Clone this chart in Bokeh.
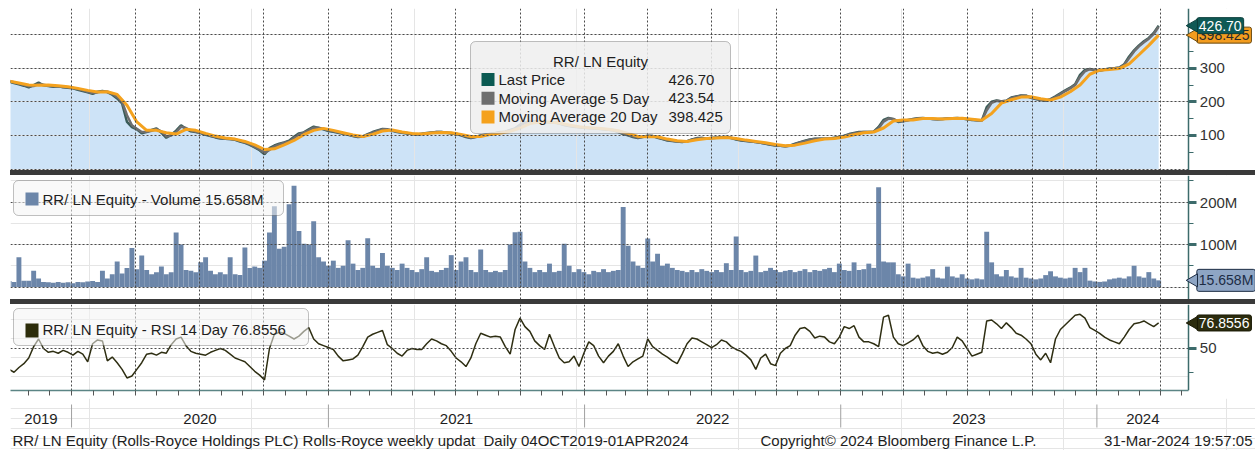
import math
import pandas as pd
from bokeh.plotting import figure
from bokeh.models import (Range1d, LinearAxis, Grid, FixedTicker, ColumnDataSource,
                          Label, BoxAnnotation, Div, CustomJSTickFormatter)
from bokeh.core.properties import value
from bokeh.layouts import column
from bokeh.embed import file_html
from bokeh.resources import INLINE

FONT = "Liberation Sans"

# ---------------- data (weekly readings, first week ending 2019-10-04) ----------------
week_start = "2019-10-04"

last_price = [
    260, 256, 252, 248, 243, 250, 257, 249, 247, 245,
    246, 243, 242, 240, 236, 232, 228, 224, 230, 232,
    229, 221, 210, 195, 140, 125, 118, 106, 111, 116,
    121, 108, 93, 102, 114, 130, 120, 112, 110, 107,
    102, 98, 94, 91, 90, 89, 87, 82, 78, 72,
    64, 56, 44, 62, 70, 75, 79, 84, 96, 106,
    109, 118, 126, 122, 118, 113, 111, 108, 105, 102,
    98, 95, 97, 104, 110, 115, 119, 118, 114, 110,
    108, 106, 104, 103, 105, 107, 109, 110, 110, 108,
    106, 104, 100, 95, 92, 96, 100, 103, 105, 107,
    110, 111, 116, 121, 132, 139, 141, 142, 141, 140,
    139, 139, 135, 131, 128, 126, 124, 123, 122, 121,
    120, 118, 117, 115, 110, 104, 100, 95, 92, 96,
    99, 98, 93, 89, 85, 83, 82, 80, 83, 88,
    92, 92, 91, 92, 93, 94, 95, 92, 88, 85,
    83, 82, 80, 78, 75, 72, 70, 69, 68, 70,
    75, 80, 84, 88, 90, 90, 90, 91, 93, 95,
    99, 104, 107, 110, 110, 110, 111, 125, 146, 152,
    148, 140, 143, 146, 149, 151, 152, 150, 149, 148,
    149, 150, 151, 152, 150, 148, 146, 145, 144, 184,
    200, 204, 201, 203, 213, 216, 219, 218, 212, 208,
    205, 203, 208, 216, 225, 234, 242, 252, 280, 295,
    298, 294, 293, 296, 299, 300, 302, 312, 335, 353,
    368, 380, 390, 405, 426.70,
]

ma5 = [
    262, 258, 254, 250, 246, 247, 253, 251, 248, 246,
    246, 244, 243, 241, 238, 234, 230, 226, 228, 231,
    230, 224, 214, 200, 160, 130, 120, 110, 110, 114,
    119, 112, 97, 100, 110, 126, 122, 115, 111, 108,
    104, 99, 95, 92, 90, 89, 88, 84, 79, 74,
    66, 58, 48, 57, 67, 73, 78, 82, 92, 103,
    108, 115, 123, 123, 119, 115, 112, 109, 106, 103,
    99, 96, 96, 102, 108, 113, 118, 118, 115, 111,
    109, 107, 105, 103, 104, 106, 108, 110, 110, 109,
    107, 105, 101, 97, 93, 95, 99, 102, 104, 106,
    109, 111, 115, 119, 129, 137, 140, 142, 141, 140,
    139, 139, 136, 132, 129, 127, 125, 123, 122, 121,
    120, 119, 117, 116, 111, 106, 101, 97, 93, 95,
    98, 98, 94, 90, 86, 84, 82, 81, 82, 87,
    91, 92, 91, 92, 93, 94, 95, 93, 89, 86,
    84, 82, 80, 78, 76, 73, 71, 69, 68, 69,
    74, 79, 83, 87, 89, 90, 90, 91, 92, 94,
    98, 103, 106, 109, 110, 110, 111, 121, 141, 150,
    149, 142, 142, 145, 148, 150, 151, 151, 149, 148,
    149, 150, 151, 151, 150, 149, 147, 145, 144, 175,
    197, 203, 202, 203, 211, 215, 218, 218, 213, 209,
    206, 204, 207, 214, 223, 232, 240, 250, 274, 291,
    297, 295, 293, 295, 298, 300, 301, 310, 330, 350,
    365, 377, 388, 402, 423.54,
]

# 20-day moving average, read every second week
ma20 = [
    262, 256, 250, 249, 250, 248, 245, 240, 234, 229,
    230, 222, 190, 140, 115, 115, 108, 104, 118, 115,
    106, 98, 92, 89, 82, 72, 58, 60, 72, 85,
    102, 115, 121, 115, 108, 101, 97, 103, 113, 116,
    110, 106, 104, 107, 109, 108, 103, 97, 97, 103,
    107, 112, 122, 135, 140, 140, 137, 131, 126, 123,
    121, 118, 114, 106, 97, 96, 96, 89, 84, 82,
    87, 91, 92, 94, 91, 86, 82, 78, 73, 69,
    71, 77, 84, 89, 91, 95, 102, 108, 110, 122,
    143, 146, 146, 150, 150, 149, 150, 151, 148, 145,
    165, 196, 206, 214, 215, 209, 205, 214, 230, 250,
    282, 294, 296, 299, 313, 340, 368, 398.425,
]

# volume in millions of shares
volume_m = [
    14, 12, 70, 15, 15, 38, 20, 12, 11, 10,
    12, 10, 11, 9, 12, 11, 13, 14, 12, 38,
    20, 30, 60, 32, 45, 92, 42, 74, 40, 30,
    35, 48, 30, 35, 128, 100, 40, 38, 35, 58,
    70, 38, 30, 35, 30, 70, 30, 28, 93, 45,
    48, 45, 62, 128, 190, 90, 95, 195, 238, 132,
    102, 100, 155, 70, 60, 50, 62, 45, 50, 110,
    55, 40, 45, 115, 50, 45, 80, 50, 45, 40,
    55, 45, 40, 35, 42, 70, 38, 35, 40, 45,
    75, 40, 60, 70, 40, 35, 88, 40, 35, 38,
    35, 40, 100, 129, 130, 60, 45, 35, 40, 35,
    55, 35, 38, 102, 50, 35, 42, 35, 30, 38,
    35, 42, 35, 38, 40, 188, 97, 60, 50, 45,
    114, 60, 78, 50, 55, 45, 40, 38, 35, 40,
    35, 42, 38, 35, 40, 35, 56, 40, 119, 40,
    35, 38, 74, 35, 38, 45, 40, 35, 38, 40,
    35, 38, 42, 35, 40, 38, 42, 45, 35, 55,
    40, 38, 58, 40, 42, 55, 45, 235, 60, 58,
    58, 30, 25, 55, 22, 20, 22, 25, 42, 22,
    20, 48, 25, 22, 30, 20, 18, 20, 18, 130,
    58, 30, 25, 40, 25, 22, 45, 22, 20, 18,
    20, 28, 37, 25, 22, 20, 22, 45, 35, 45,
    15, 13, 12, 13, 18, 20, 22, 20, 25, 50,
    25, 22, 35, 20, 15.658,
]

rsi14 = [
    28, 25, 30, 34, 40, 52, 60, 50, 46, 47,
    45, 48, 46, 43, 47, 44, 36, 55, 59, 58,
    37, 41, 35, 28, 19, 21, 28, 35, 44, 45,
    43, 46, 45, 54, 60, 62, 53, 47, 45, 44,
    43, 46, 48, 50, 48, 44, 40, 38, 36, 31,
    26, 22, 17, 50, 65, 67, 66, 63, 60, 63,
    68, 72, 60, 55, 53, 51, 49, 42, 37, 38,
    39, 43, 52, 62, 65, 67, 69, 54, 50, 45,
    42, 48, 50, 49, 49, 55, 60, 58, 55, 53,
    47, 40, 36, 31, 40, 55, 66, 64, 62, 63,
    62, 52, 44, 70, 82, 73, 68, 58, 53, 49,
    65, 52, 40, 35, 36, 42, 31, 45, 57, 53,
    42, 35, 42, 47, 55, 42, 31, 36, 39, 42,
    60, 52, 48, 44, 41, 37, 34, 44, 55, 61,
    60, 57, 54, 51, 54, 59, 57, 52, 49, 47,
    43, 38, 28, 40, 44, 34, 32, 45, 50, 53,
    64, 71, 72, 68, 61, 63, 62, 57, 55, 62,
    73, 71, 74, 62, 57, 57, 55, 52, 83, 85,
    62, 55, 53, 56, 59, 64, 53, 47, 45, 46,
    44, 46, 51, 62, 58, 50, 42, 44, 46, 79,
    80, 76, 71, 77, 72, 66, 64, 60, 55, 44,
    38, 45, 35, 60, 70, 75, 80, 85, 86, 82,
    72, 69, 66, 62, 59, 57, 55, 62, 70, 76,
    77, 79, 76, 73, 76.8556,
]

price_ticks = [100, 200, 300]
price_minor = [50, 150, 250, 350]
volume_ticks = [100, 200]
volume_minor = [50, 150, 250]
rsi_ticks = [50]
rsi_minor = [25, 75]
year_labels = ["2019", "2020", "2021", "2022", "2023", "2024"]
footer_left = ("RR/ LN Equity (Rolls-Royce Holdings PLC) Rolls-Royce weekly updat\u00a0 "
               "Daily 04OCT2019-01APR2024")
footer_mid = "Copyright\u00a9 2024 Bloomberg Finance L.P."
footer_right = "31-Mar-2024 19:57:05"
ticker_name = "RR/ LN Equity"

# ---------------- sources ----------------
dates = pd.date_range(week_start, periods=len(last_price), freq="7D")
src = ColumnDataSource(dict(date=dates, price=last_price, ma5=ma5, vol=volume_m, rsi=rsi14))
src20 = ColumnDataSource(dict(date=dates[::2], ma20=ma20))


def ms(ts):
    return int(pd.Timestamp(ts).value // 10**6)


X0, X_AXIS, X1 = ms("2019-10-06"), ms("2024-05-11"), ms("2024-08-14")
PTR_X = X_AXIS + 7 * 86400000          # value-tag pointers sit just right of the axis
x_range = Range1d(X0, X1)
quarters = [ms(t) for t in pd.date_range("2019-10-01", "2024-04-01", freq="QS")]
months = [ms(t) for t in pd.date_range("2019-11-01", "2024-05-01", freq="MS")]
year_bounds = [ms(t) for t in pd.date_range("2020-01-01", "2024-01-01", freq="YS")]
edges = [X0] + year_bounds + [X_AXIS]
year_mids = [int((a + b) // 2) for a, b in zip(edges[:-1], edges[1:])]

FW = 1245
GRID = dict(grid_line_color="#4a4a4a", grid_line_dash="2 2", grid_line_width=1, level="glyph")
AXIS_COL = "#3c6b6b"


def make_fig(frame_h, y0, y1, border_top=0, border_bottom=0):
    p = figure(frame_width=FW, frame_height=frame_h, x_range=x_range, y_range=Range1d(y0, y1),
               x_axis_location=None, y_axis_location=None,
               toolbar_location=None, output_backend="svg",
               min_border_left=10, min_border_right=0, min_border_top=border_top,
               min_border_bottom=border_bottom)
    p.outline_line_color = None
    p.background_fill_color = "white"
    p.border_fill_color = "white"
    return p


def panel_guides(p, ticks, minor, ygrid, overrides=None):
    p.add_layout(Grid(dimension=0, ticker=FixedTicker(ticks=quarters), **GRID))
    p.add_layout(Grid(dimension=1, ticker=FixedTicker(ticks=ygrid), **GRID))
    # blank out the grid to the right of the value axis
    p.add_layout(BoxAnnotation(left=X_AXIS, fill_color="white", fill_alpha=1,
                               line_color=None, level="glyph"))
    ax = LinearAxis(ticker=FixedTicker(ticks=ticks, minor_ticks=minor),
                    fixed_location=X_AXIS,
                    axis_line_color=AXIS_COL, axis_line_width=1.5,
                    major_tick_in=0, major_tick_out=8, major_tick_line_width=3,
                    major_tick_line_color=AXIS_COL,
                    minor_tick_in=0, minor_tick_out=5, minor_tick_line_color=AXIS_COL,
                    major_label_standoff=3, major_label_text_font=FONT,
                    major_label_text_font_size="15px", major_label_text_color="#333333")
    if overrides:
        ax.major_label_overrides = overrides
    p.add_layout(ax, "right")


def sbox(p, fb, x0, x1, y0, y1, **kw):
    # page coordinates -> frame screen coordinates (frame left at x=10, bottom at fb)
    p.add_layout(BoxAnnotation(left=x0 - 10, right=x1 - 10, top=fb - y0, bottom=fb - y1,
                               left_units="screen", right_units="screen",
                               top_units="screen", bottom_units="screen", **kw))


def stext(p, fb, x, y, text, align="left", size="15px", color="#1e1e1e"):
    p.add_layout(Label(x=x - 10, y=fb - y, x_units="screen", y_units="screen", text=text,
                       text_font=FONT, text_font_size=size, text_color=color,
                       text_align=align, text_baseline="middle"))


def value_tags(p, tags):
    """tags: list of (value, text, fill, text colour, border)."""
    p.scatter(x=[PTR_X] * len(tags), y=[t[0] for t in tags], marker="triangle",
              size=13, angle=math.pi / 2, fill_color=[t[2] for t in tags],
              line_color=[t[4] for t in tags], level="overlay")
    for yval, text, fill, tcolor, border in tags:
        p.add_layout(Label(x=X_AXIS, y=yval, x_offset=8, text=text,
                           text_font=FONT, text_font_size="14px", text_color=tcolor,
                           text_align="left", text_baseline="middle",
                           background_fill_color=fill, background_fill_alpha=1.0,
                           border_line_color=border, border_line_width=1,
                           padding=dict(top=3, right=2, bottom=3, left=2), border_radius=2))


# ---------------- price panel ----------------
p1 = make_fig(162, -4.46, 477.7, border_top=8)
panel_guides(p1, price_ticks, price_minor, [0, 100, 200, 300, 400])
p1.varea(x="date", y1=0, y2="price", source=src, fill_color="#cde3f7", level="underlay")
p1.line("date", "price", source=src, line_color="#3a5c58", line_width=2.5)
p1.line("date", "ma5", source=src, line_color="#6e6e6e", line_width=2.5)
p1.line("date", "ma20", source=src20, line_color="#f4a21e", line_width=3)
value_tags(p1, [(ma20[-1], f"{ma20[-1]:.3f}", "#f39c1e", "#2a2a2a", "#6a4a10"),
                (last_price[-1], f"{last_price[-1]:.2f}", "#0f5955", "white", "#0b3f3c")])

FB1 = 170
sbox(p1, FB1, 470, 730, 41, 133, fill_color="#eeeeee", fill_alpha=0.85,
     line_color="#333333", line_width=1, border_radius=5)
stext(p1, FB1, 600, 61, ticker_name, align="center")
legend_rows = [("Last Price", f"{last_price[-1]:.2f}", "#0b5a52"),
               ("Moving Average 5 Day", f"{ma5[-1]:.2f}", "#6e6e6e"),
               ("Moving Average 20 Day", f"{ma20[-1]:.3f}", "#f5a11c")]
for k, (name, val, col) in enumerate(legend_rows):
    cy = 79 + 18.7 * k
    sbox(p1, FB1, 481, 494, cy - 6.5, cy + 6.5, fill_color=col, fill_alpha=1, line_color=None)
    stext(p1, FB1, 498, cy, name)
    stext(p1, FB1, 668, cy, val)

# ---------------- volume panel ----------------
p2 = make_fig(124, -29.4, 262.4)
panel_guides(p2, volume_ticks, volume_minor, [0, 100, 200], {t: f"{t}M" for t in volume_ticks})
p2.vbar(x="date", top="vol", bottom=0, width=7 * 86400000, source=src,
        fill_color="#6c86a9", line_color=None)
value_tags(p2, [(volume_m[-1], f"{volume_m[-1]:.3f}M", "#8ea5c4", "#1c2c44", "#1c2c44")])
FB2 = 299
sbox(p2, FB2, 13, 283, 180, 215, fill_color="#f4f4f4", fill_alpha=0.55,
     line_color="#333333", line_width=1, border_radius=5)
sbox(p2, FB2, 25, 38, 192, 205, fill_color="#6c86a9", fill_alpha=1, line_color=None)
stext(p2, FB2, 42, 199, f"{ticker_name} - Volume {volume_m[-1]:.3f}M")

# ---------------- RSI panel ----------------
p3 = make_fig(86, 5.79, 96.3, border_bottom=8)
panel_guides(p3, rsi_ticks, rsi_minor, [50])
p3.line("date", "rsi", source=src, line_color="#2e2e12", line_width=1.5)
value_tags(p3, [(rsi14[-1], f"{rsi14[-1]:.4f}", "#2c2c0e", "white", "#1a1a05")])
FB3 = 390
sbox(p3, FB3, 13, 308, 308, 345, fill_color="#f4f4f4", fill_alpha=0.55,
     line_color="#333333", line_width=1, border_radius=5)
sbox(p3, FB3, 25, 38, 323, 337, fill_color="#2c2c0a", fill_alpha=1, line_color=None)
stext(p3, FB3, 42, 329, f"{ticker_name} - RSI 14 Day {rsi14[-1]:.4f}")

# monthly ticks along the bottom of the RSI panel
xa = LinearAxis(ticker=FixedTicker(ticks=months, minor_ticks=[]),
                formatter=CustomJSTickFormatter(code="return ''"), bounds=(X0, X_AXIS),
                axis_line_color="#5b8585", axis_line_width=1.5,
                major_tick_in=0, major_tick_out=5, major_tick_line_color="#555555",
                major_label_standoff=0, major_label_text_font_size="1px")
p3.add_layout(xa, "below")

# ---------------- date strip: year separators, year labels, footer ----------------
# y measured downward from the top of the strip (page y 398)
p4 = figure(frame_width=FW, frame_height=52, x_range=x_range, y_range=Range1d(52, 0),
            x_axis_location=None, y_axis_location=None, toolbar_location=None,
            output_backend="svg", min_border_left=10, min_border_right=0,
            min_border_top=0, min_border_bottom=0)
p4.outline_line_color = None
p4.background_fill_color = "white"
p4.border_fill_color = "white"
p4.segment(x0=year_bounds, x1=year_bounds, y0=6, y1=29, line_color="#a0a0a0", line_width=1)
p4.text(x=year_mids, y=[20] * len(year_mids), text=year_labels, text_font=value(FONT),
        text_font_size="15px", text_color="#1e1e1e", text_align="center",
        text_baseline="middle")
FB4 = 450
stext(p4, FB4, 12, 440, footer_left)
stext(p4, FB4, 760, 440, footer_mid)
stext(p4, FB4, 1252, 440, footer_right, align="right")


def separator():
    return Div(text='<div style="width:18px;height:1px;margin:1px auto 0 auto;'
                    'border-top:1px solid #9a9a9a;border-bottom:1px solid #9a9a9a;"></div>',
               width=FW, height=5, margin=(0, 0, 0, 10),
               styles={"background-color": "#3a3a3a", "overflow": "hidden"})


layout = column(p1, separator(), p2, separator(), p3, p4, spacing=0)
open("out.html", "w").write(file_html(layout, INLINE))
